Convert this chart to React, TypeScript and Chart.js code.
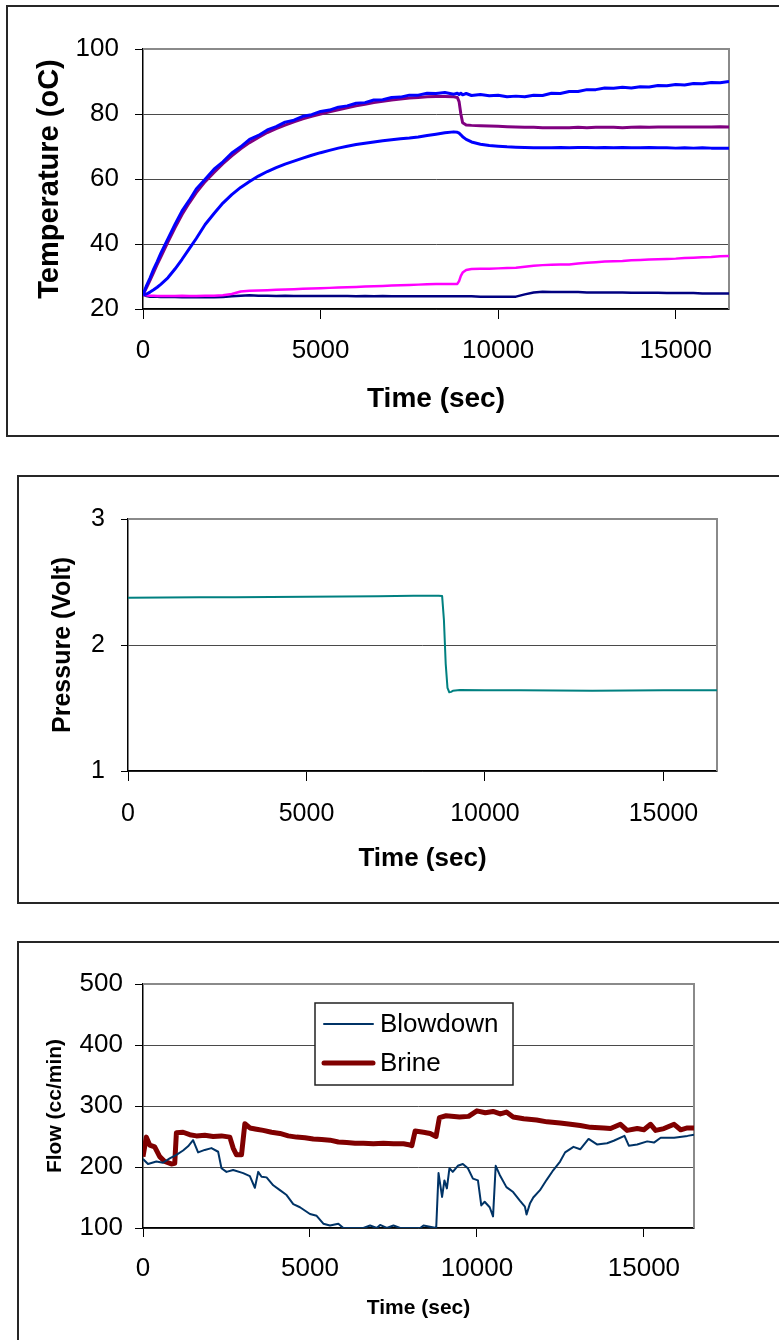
import React, { useEffect, useRef } from "react";
import { Chart, registerables } from "chart.js";

Chart.register(...registerables);

const FONT = "Arial, 'Liberation Sans', Helvetica, sans-serif";

// ---------- shared axis data ----------
const X_TICKS = [0, 5000, 10000, 15000];
const X_MAX = 16500;
const TEMP_TICKS = [20, 40, 60, 80, 100];
const PRESS_TICKS = [1, 2, 3];
const FLOW_TICKS = [100, 200, 300, 400, 500];

// ---------- chart 1: temperatures ----------
const T1 = [
  0, 100, 200, 300, 400, 500, 700, 900, 1100, 1300,
  1500, 1750, 2000, 2250, 2500, 2750, 3000, 3250, 3500, 3750,
  4000, 4250, 4500, 4750, 5000, 5250, 5500, 5750, 6000, 6250,
  6500, 6750, 7000, 7250, 7500, 7750, 8000, 8250, 8500, 8750,
  8850, 8900, 8950, 9000, 9100, 9250, 9500, 9750, 10000, 10250,
  10500, 10750, 11000, 11250, 11500, 11750, 12000, 12250, 12500, 12750,
  13000, 13250, 13500, 13750, 14000, 14250, 14500, 14750, 15000, 15250,
  15500, 15750, 16000, 16250, 16500,
];
const TEMP_UPPER_BLUE = [
  24.4, 27.2, 29.6, 32.3, 34.6, 37.1, 41.6, 46.0, 50.2, 53.4,
  56.9, 59.9, 63.0, 65.3, 68.0, 69.9, 72.2, 73.4, 75.1, 76.1,
  77.5, 78.1, 79.3, 79.8, 80.8, 81.2, 82.1, 82.5, 83.3, 83.5,
  84.3, 84.4, 85.1, 85.2, 85.8, 85.8, 86.4, 86.3, 86.6, 86.1,
  86.4, 86.0, 86.4, 85.9, 86.3, 85.7, 86.0, 85.6, 85.8, 85.3,
  85.5, 85.3, 85.8, 85.7, 86.4, 86.3, 86.9, 86.9, 87.5, 87.5,
  88.0, 87.9, 88.2, 88.0, 88.4, 88.3, 88.8, 88.7, 89.1, 88.9,
  89.4, 89.3, 89.7, 89.6, 90.0,
];
const TEMP_PURPLE = [
  24.4, 26.6, 28.9, 31.3, 33.7, 36.0, 40.6, 45.0, 49.1, 52.6,
  55.8, 59.2, 62.0, 64.7, 67.1, 69.3, 71.2, 72.8, 74.3, 75.5,
  76.6, 77.6, 78.5, 79.3, 80.0, 80.7, 81.3, 81.9, 82.5, 83.0,
  83.5, 83.9, 84.3, 84.6, 84.9, 85.1, 85.3, 85.4, 85.4, 85.3,
  85.1, 83.8, 80.0, 77.3, 76.6, 76.5, 76.4, 76.3, 76.2, 76.1,
  76.0, 75.9, 75.9, 75.8, 75.8, 75.8, 75.8, 75.9, 75.8, 75.9,
  75.9, 75.9, 75.8, 75.9, 76.0, 75.9, 76.0, 76.0, 76.0, 76.0,
  76.0, 76.0, 76.0, 76.1, 76.0,
];
const TEMP_LOWER_BLUE = [
  24.4, 24.6, 25.2, 25.9, 26.7, 27.6, 29.6, 32.3, 35.3, 38.5,
  41.7, 46.0, 49.4, 52.6, 55.2, 57.4, 59.2, 60.9, 62.3, 63.5,
  64.6, 65.5, 66.4, 67.3, 68.1, 68.8, 69.5, 70.1, 70.6, 71.0,
  71.4, 71.8, 72.1, 72.4, 72.6, 72.9, 73.4, 73.8, 74.2, 74.5,
  74.4, 74.1, 73.6, 73.0, 72.2, 71.4, 70.7, 70.3, 70.1, 69.9,
  69.8, 69.7, 69.6, 69.6, 69.6, 69.7, 69.6, 69.7, 69.7, 69.6,
  69.7, 69.6, 69.7, 69.6, 69.6, 69.7, 69.6, 69.6, 69.5, 69.6,
  69.5, 69.6, 69.5, 69.5, 69.5,
];
const TEMP_MAGENTA = [
  24.4, 24.2, 24.1, 24.1, 24.0, 24.0, 24.0, 24.0, 24.1, 24.0,
  24.0, 24.1, 24.1, 24.2, 24.6, 25.4, 25.6, 25.7, 25.8, 25.9,
  26.0, 26.1, 26.2, 26.3, 26.4, 26.5, 26.6, 26.7, 26.8, 26.9,
  27.0, 27.1, 27.2, 27.3, 27.4, 27.5, 27.6, 27.7, 27.7, 27.7,
  27.7, 28.6, 30.2, 31.2, 32.0, 32.3, 32.4, 32.4, 32.5, 32.6,
  32.7, 33.0, 33.3, 33.5, 33.6, 33.7, 33.7, 34.0, 34.2, 34.4,
  34.6, 34.7, 34.8, 35.0, 35.1, 35.2, 35.3, 35.4, 35.5, 35.7,
  35.8, 35.9, 36.0, 36.2, 36.3,
];
const TEMP_NAVY = [
  24.4, 24.0, 23.8, 23.8, 23.8, 23.7, 23.7, 23.7, 23.6, 23.6,
  23.6, 23.6, 23.6, 23.7, 23.9, 24.1, 24.2, 24.1, 24.1, 24.0,
  24.1, 24.0, 24.0, 24.0, 24.0, 24.0, 24.0, 24.0, 23.9, 24.0,
  23.9, 24.0, 23.9, 23.9, 23.9, 23.9, 23.9, 23.9, 23.9, 23.9,
  23.9, 23.9, 23.9, 23.9, 23.9, 23.9, 23.8, 23.8, 23.8, 23.8,
  23.8, 24.5, 25.1, 25.3, 25.2, 25.2, 25.2, 25.2, 25.1, 25.1,
  25.1, 25.1, 25.1, 25.0, 25.0, 25.0, 25.0, 24.9, 24.9, 24.9,
  24.9, 24.8, 24.8, 24.8, 24.8,
];

// ---------- chart 2: pressure ----------
const T2 = [
  0, 1000, 2000, 3000, 4000, 5000, 6000, 7000, 8000, 8700,
  8800, 8850, 8900, 8950, 9000, 9050, 9100, 9300, 10000, 11000,
  12000, 13000, 14000, 15000, 16000, 16500,
];
const PRESSURE = [
  2.375, 2.376, 2.378, 2.379, 2.381, 2.383, 2.385, 2.387, 2.39, 2.391,
  2.388, 2.2, 1.85, 1.66, 1.625, 1.628, 1.636, 1.642, 1.641, 1.64,
  1.639, 1.637, 1.638, 1.64, 1.641, 1.641,
];

// ---------- chart 3: flows ----------
const T_BLOWDOWN = [
  0, 150, 400, 600, 800, 1000, 1200, 1350, 1500, 1650,
  1850, 2050, 2250, 2350, 2500, 2700, 3000, 3200, 3350, 3450,
  3550, 3700, 3900, 4100, 4300, 4500, 4700, 5000, 5200, 5400,
  5600, 5850, 6000, 6600, 6800, 7000, 7100, 7300, 7500, 7700,
  8300, 8400, 8780, 8850, 8956, 9026, 9100, 9177, 9277, 9428,
  9578, 9729, 9880, 10030, 10130, 10231, 10382, 10482, 10562, 10683,
  10883, 11084, 11285, 11436, 11486, 11586, 11687, 11888, 12088, 12289,
  12490, 12640, 12891, 13092, 13343, 13594, 13896, 14096, 14418, 14548,
  14799, 15100, 15301, 15502, 15904, 16305, 16500,
];
const BLOWDOWN = [
  213, 205, 209, 207, 214, 220, 227, 234, 244, 224,
  228, 231, 225, 198, 192, 195, 190, 185, 166, 192,
  184, 183, 170, 162, 154, 139, 134, 123, 120, 107,
  104, 107, 100, 100, 104, 100, 105, 100, 104, 100,
  100, 104, 100, 190, 151, 178, 165, 198, 192, 202,
  205, 198, 181, 178, 137, 143, 134, 119, 202, 187,
  167, 159, 145, 135, 122, 140, 150, 162, 179, 195,
  209, 224, 233, 229, 246, 237, 239, 243, 251, 235,
  237, 242, 240, 248, 248, 251, 253,
];
const T_BRINE = [
  0, 100, 200, 350, 500, 650, 850, 950, 1000, 1200,
  1400, 1600, 1850, 2100, 2350, 2600, 2700, 2800, 2950, 3050,
  3200, 3400, 3600, 3850, 4100, 4350, 4600, 4850, 5100, 5350,
  5600, 5850, 6100, 6350, 6600, 6900, 7200, 7500, 7800, 8000,
  8050, 8150, 8400, 8600, 8775, 8876, 9076, 9478, 9750, 10000,
  10250, 10482, 10700, 10883, 11084, 11400, 11787, 12100, 12490, 12800,
  13092, 13400, 13795, 14000, 14297, 14498, 14800, 15000, 15200, 15350,
  15600, 15904, 16100, 16300, 16500,
];
const BRINE = [
  217, 249, 236, 233, 217, 209, 205, 206, 256, 257,
  253, 251, 252, 250, 251, 249, 231, 220, 220, 271,
  264, 262, 260, 257, 255, 251, 249, 248, 246, 245,
  244, 241, 240, 239, 239, 238, 239, 238, 238, 236,
  235, 259, 257, 255, 250, 281, 284, 282, 283, 292,
  289, 291, 287, 290, 282, 279, 277, 274, 272, 270,
  268, 265, 264, 263, 270, 260, 263, 261, 270, 260,
  263, 270, 261, 264, 264,
];

// ---------- helpers ----------
const pts = (xs: number[], ys: number[]) => xs.map((x, i) => ({ x, y: ys[i] }));
const fmt = (v: any) => String(v);

const framePlugin = {
  id: "frame",
  beforeDatasetsDraw(chart: any) {
    const { ctx, chartArea: a } = chart;
    ctx.save();
    ctx.strokeStyle = "#8a8a8a";
    ctx.lineWidth = 2;
    ctx.beginPath();
    ctx.moveTo(a.left, a.top);
    ctx.lineTo(a.right, a.top);
    ctx.lineTo(a.right, a.bottom);
    ctx.stroke();
    ctx.restore();
  },
};

const legendPlugin = {
  id: "boxLegend",
  afterDatasetsDraw(chart: any) {
    const { ctx } = chart;
    const bx = 315, by = 68, bw = 198, bh = 82;
    ctx.save();
    ctx.fillStyle = "#fff";
    ctx.fillRect(bx, by, bw, bh);
    ctx.strokeStyle = "#222";
    ctx.lineWidth = 1.5;
    ctx.strokeRect(bx, by, bw, bh);
    chart.data.datasets.forEach((ds: any, i: number) => {
      const y = by + 21 + i * 39;
      ctx.strokeStyle = ds.borderColor;
      ctx.lineWidth = ds.borderWidth;
      ctx.lineCap = "round";
      ctx.beginPath();
      ctx.moveTo(bx + 9, y);
      ctx.lineTo(bx + 58, y);
      ctx.stroke();
      ctx.fillStyle = "#000";
      ctx.font = `26px ${FONT}`;
      ctx.textAlign = "left";
      ctx.textBaseline = "middle";
      ctx.fillText(ds.label, bx + 65, y + 1);
    });
    ctx.restore();
  },
};

function xAxis(h: number, tl: number, pad: number, fs: number, ts: number, tpb: number) {
  return {
    type: "linear",
    position: "bottom",
    min: 0,
    max: X_MAX,
    afterBuildTicks: (s: any) => {
      s.ticks = X_TICKS.map((v) => ({ value: v }));
    },
    afterFit: (s: any) => {
      s.height = h;
    },
    grid: { drawOnChartArea: false, drawTicks: true, tickLength: tl, tickColor: "#000", tickWidth: 1 },
    border: { display: true, color: "#000", width: 1.5 },
    ticks: { color: "#000", font: { family: FONT, size: fs }, padding: pad, maxRotation: 0, autoSkip: false, callback: fmt },
    title: {
      display: true,
      text: "Time (sec)",
      color: "#000",
      font: { family: FONT, size: ts, weight: "bold" },
      padding: { top: 0, bottom: tpb },
    },
  };
}

function yAxis(
  min: number, max: number, tickVals: number[], w: number, tl: number, pad: number,
  fs: number, title: string, ts: number, tpt: number
) {
  return {
    type: "linear",
    position: "left",
    min,
    max,
    afterBuildTicks: (s: any) => {
      s.ticks = tickVals.map((v) => ({ value: v }));
    },
    afterFit: (s: any) => {
      s.width = w;
    },
    grid: { color: "#4a4a4a", lineWidth: 1, drawTicks: true, tickLength: tl, tickColor: "#000", tickWidth: 1 },
    border: { display: true, color: "#000", width: 1.5 },
    ticks: { color: "#000", font: { family: FONT, size: fs }, padding: pad, autoSkip: false, callback: fmt },
    title: {
      display: true,
      text: title,
      color: "#000",
      font: { family: FONT, size: ts, weight: "bold" },
      padding: { top: tpt, bottom: 0 },
    },
  };
}

function line(label: string, data: any[], color: string, width: number) {
  return {
    label,
    data,
    borderColor: color,
    backgroundColor: color,
    borderWidth: width,
    pointRadius: 0,
    tension: 0,
    fill: false,
    borderJoinStyle: "round",
  };
}

function baseOptions(padTop: number, padRight: number, x: any, y: any) {
  return {
    responsive: false,
    maintainAspectRatio: false,
    animation: false,
    events: [],
    layout: { padding: { top: padTop, right: padRight, left: 0, bottom: 0 } },
    plugins: { legend: { display: false }, tooltip: { enabled: false } },
    scales: { x, y },
  };
}

function tempConfig() {
  return {
    type: "line",
    data: {
      datasets: [
        line("T outer", pts(T1, TEMP_UPPER_BLUE), "#0000FF", 3),
        line("T purple", pts(T1, TEMP_PURPLE), "#800080", 3),
        line("T inner", pts(T1, TEMP_LOWER_BLUE), "#0000FF", 3),
        line("T magenta", pts(T1, TEMP_MAGENTA), "#FF00FF", 2.5),
        line("T navy", pts(T1, TEMP_NAVY), "#000080", 2.5),
      ],
    },
    options: baseOptions(
      49, 50,
      xAxis(131, 10, 16, 26, 28, 24),
      yAxis(20, 100, TEMP_TICKS, 143, 8, 16, 26, "Temperature (oC)", 29, 33)
    ),
    plugins: [framePlugin],
  };
}

function pressConfig() {
  return {
    type: "line",
    data: {
      datasets: [line("Pressure", pts(T2, PRESSURE), "#008080", 2)],
    },
    options: baseOptions(
      49, 62,
      xAxis(139, 10, 18, 25, 26, 36),
      yAxis(1, 3, PRESS_TICKS, 128, 7, 16, 25, "Pressure (Volt)", 25, 48)
    ),
    plugins: [framePlugin],
  };
}

function flowConfig() {
  return {
    type: "line",
    data: {
      datasets: [
        line("Blowdown", pts(T_BLOWDOWN, BLOWDOWN), "#003366", 2),
        line("Brine", pts(T_BRINE, BRINE), "#800000", 5),
      ],
    },
    options: baseOptions(
      49, 85,
      xAxis(112, 9, 16, 26, 21, 19),
      yAxis(100, 500, FLOW_TICKS, 143, 8, 12, 26, "Flow (cc/min)", 21, 43)
    ),
    plugins: [framePlugin, legendPlugin],
  };
}

function ChartCanvas(props: { make: () => any; left: number; top: number; width: number; height: number }) {
  const ref = useRef<HTMLCanvasElement>(null);
  useEffect(() => {
    const chart = new Chart(ref.current as HTMLCanvasElement, props.make() as any);
    return () => chart.destroy();
  }, []);
  return (
    <canvas
      ref={ref}
      width={props.width}
      height={props.height}
      style={{ position: "absolute", left: props.left, top: props.top, width: props.width, height: props.height }}
    />
  );
}

function Box(props: { left: number; top: number; height: number }) {
  return (
    <div
      style={{
        position: "absolute",
        left: props.left,
        top: props.top,
        width: 790 - props.left,
        height: props.height,
        border: "2px solid #262626",
        boxSizing: "border-box",
      }}
    />
  );
}

export default function App() {
  return (
    <div
      style={{
        position: "absolute",
        left: 0,
        top: 0,
        width: 779,
        height: 1340,
        overflow: "hidden",
        background: "#fff",
      }}
    >
      <Box left={6} top={5} height={432} />
      <Box left={17} top={475} height={429} />
      <Box left={17} top={941} height={420} />
      <ChartCanvas make={tempConfig} left={0} top={0} width={779} height={440} />
      <ChartCanvas make={pressConfig} left={0} top={470} width={779} height={440} />
      <ChartCanvas make={flowConfig} left={0} top={935} width={779} height={405} />
    </div>
  );
}
